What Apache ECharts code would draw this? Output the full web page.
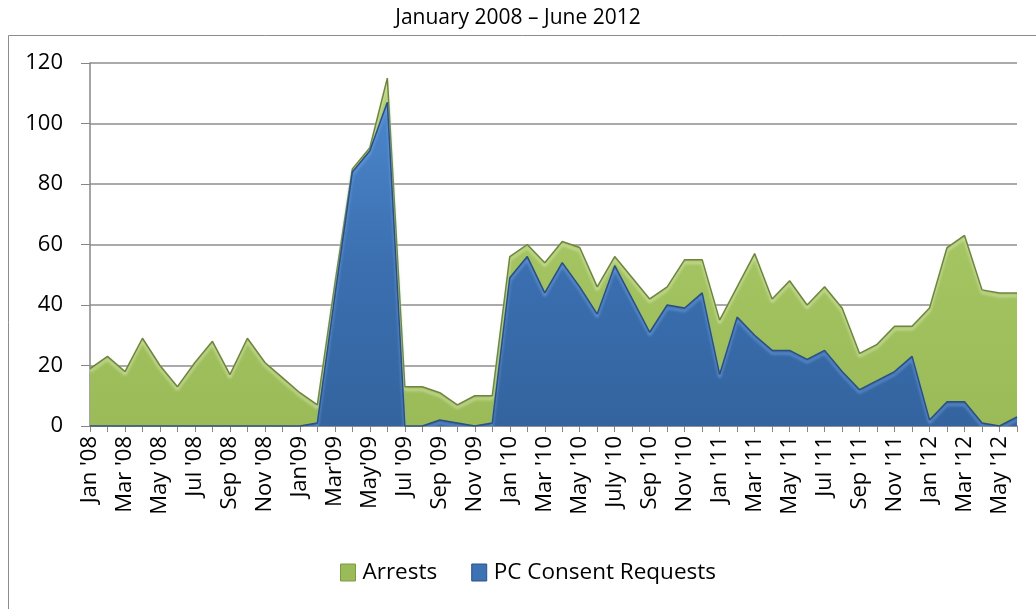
<!DOCTYPE html>
<html>
<head>
<meta charset="utf-8">
<script src="https://cdn.jsdelivr.net/npm/echarts@6/dist/echarts.min.js"></script>
<style>
  html, body { margin: 0; padding: 0; background: #fff; }
  #chart { width: 1036px; height: 609px; }
</style>
</head>
<body>
<div id="chart"></div>
<script>
// Monthly categories, January 2008 through June 2012
const months = [
  "Jan '08", "Feb '08", "Mar '08", "Apr '08", "May '08", "Jun '08", "Jul '08", "Aug '08", "Sep '08", "Oct '08", "Nov '08", "Dec '08",
  "Jan'09", "Feb'09", "Mar'09", "Apr'09", "May'09", "Jun'09", "Jul '09", "Aug '09", "Sep '09", "Oct '09", "Nov '09", "Dec '09",
  "Jan '10", "Feb '10", "Mar '10", "Apr '10", "May '10", "Jun '10", "July '10", "Aug '10", "Sep '10", "Oct '10", "Nov '10", "Dec '10",
  "Jan '11", "Feb '11", "Mar '11", "Apr '11", "May '11", "Jun '11", "Jul '11", "Aug '11", "Sep '11", "Oct '11", "Nov '11", "Dec '11",
  "Jan '12", "Feb '12", "Mar '12", "Apr '12", "May '12", "Jun '12"
];

const arrests = [
  19, 23, 18, 29, 20, 13, 21, 28, 17, 29, 21, 16,
  11, 7, 47, 85, 92, 115, 13, 13, 11, 7, 10, 10,
  56, 60, 54, 61, 59, 46, 56, 49, 42, 46, 55, 55,
  35, 46, 57, 42, 48, 40, 46, 39, 24, 27, 33, 33,
  39, 59, 63, 45, 44, 44
];

const pcConsentRequests = [
  0, 0, 0, 0, 0, 0, 0, 0, 0, 0, 0, 0,
  0, 1, 43, 84, 91, 107, 0, 0, 2, 1, 0, 1,
  49, 56, 44, 54, 46, 37, 53, 42, 31, 40, 39, 44,
  17, 36, 30, 25, 25, 22, 25, 18, 12, 15, 18, 23,
  2, 8, 8, 1, 0, 3
];

const yTicks = { min: 0, max: 120, interval: 20 };

const FONT = '"Open Sans", "Noto Sans", sans-serif';

const chart = echarts.init(document.getElementById('chart'), null, { renderer: 'canvas' });

const greenFill = new echarts.graphic.LinearGradient(0, 0, 0, 1, [
  { offset: 0, color: '#B2D072' },
  { offset: 0.5, color: '#A4C461' },
  { offset: 1, color: '#9BBB59' }
]);
const blueFill = new echarts.graphic.LinearGradient(0, 0, 0, 1, [
  { offset: 0, color: '#4C87CC' },
  { offset: 0.5, color: '#3B6FB0' },
  { offset: 1, color: '#33649F' }
]);

chart.setOption({
  backgroundColor: '#ffffff',
  animation: false,
  title: {
    text: 'January 2008 \u2013 June 2012',
    left: 'center',
    top: 3,
    textStyle: { fontFamily: FONT, fontSize: 21, fontWeight: 'normal', color: '#000' }
  },
  graphic: [{
    type: 'rect',
    left: 6, top: 33,
    shape: { width: 1060, height: 620 },
    style: { fill: 'none', stroke: '#8C8C8C', lineWidth: 1 },
    silent: true
  }],
  legend: {
    bottom: 20,
    left: 335,
    itemWidth: 15,
    itemHeight: 17,
    itemGap: 34,
    icon: 'rect',
    textStyle: { fontFamily: FONT, fontSize: 22.5, color: '#000', padding: [0, 0, 0, 2] },
    data: [
      { name: 'Arrests', itemStyle: { color: '#9BBB59', borderColor: '#7D9A45', borderWidth: 1 } },
      { name: 'PC Consent Requests', itemStyle: { color: '#3D72B4', borderColor: '#2B5286', borderWidth: 1 } }
    ]
  },
  grid: { left: 90, right: 19, top: 63, bottom: 183, containLabel: false },
  xAxis: {
    type: 'category',
    data: months,
    boundaryGap: false,
    axisLine: { lineStyle: { color: '#868686', width: 1.5 } },
    axisTick: { show: true, interval: 0, length: 6, lineStyle: { color: '#868686' } },
    axisLabel: {
      interval: 1,
      rotate: 90,
      margin: 10,
      fontFamily: FONT,
      fontSize: 22,
      color: '#000'
    },
    splitLine: { show: false }
  },
  yAxis: {
    type: 'value',
    min: yTicks.min,
    max: yTicks.max,
    interval: yTicks.interval,
    axisLine: { show: true, lineStyle: { color: '#868686', width: 1.5 } },
    axisTick: { show: true, length: 9, lineStyle: { color: '#868686' } },
    axisLabel: { margin: 27, fontFamily: FONT, fontSize: 22, color: '#000' },
    splitLine: { lineStyle: { color: '#8E8E8E', width: 1.5 } }
  },
  series: [
    {
      name: 'Arrests',
      type: 'line',
      data: arrests,
      symbol: 'none',
      smooth: false,
      lineStyle: {
        color: '#6F8442', width: 1.5,
        shadowColor: 'rgba(225,240,190,0.9)', shadowBlur: 3, shadowOffsetY: 3
      },
      itemStyle: { color: '#9BBB59' },
      areaStyle: { color: greenFill, opacity: 1 },
      z: 2
    },
    {
      name: 'PC Consent Requests',
      type: 'line',
      data: pcConsentRequests,
      symbol: 'none',
      smooth: false,
      lineStyle: {
        color: '#2C4F7E', width: 1.5,
        shadowColor: 'rgba(120,170,235,0.9)', shadowBlur: 3, shadowOffsetY: 3
      },
      itemStyle: { color: '#3D72B4' },
      areaStyle: { color: blueFill, opacity: 1 },
      z: 3
    }
  ]
});
</script>
</body>
</html>
